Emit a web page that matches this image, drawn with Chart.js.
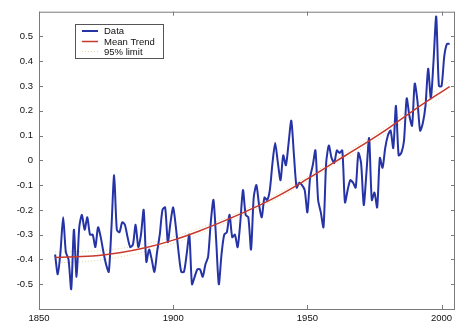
<!DOCTYPE html>
<html>
<head>
<meta charset="utf-8">
<script src="https://cdn.jsdelivr.net/npm/chart.js@4.4.0/dist/chart.umd.min.js"></script>
<style>
  html, body { margin: 0; padding: 0; background: #fff; }
</style>
</head>
<body>
<canvas id="grafikSuhu" width="468" height="334"></canvas>
<script>
// Anomali suhu tahunan (1856 - 2003)
const tahunAwal = 1856;
const anomali = [
  -0.38, -0.46, -0.37, -0.23, -0.37, -0.40, -0.52, -0.28, -0.47, -0.27, // 1856-1865
  -0.22, -0.28, -0.23, -0.30, -0.30, -0.35, -0.27, -0.31, -0.37, -0.42, // 1866-1875
  -0.45, -0.27, -0.06, -0.28, -0.29, -0.25, -0.26, -0.31, -0.35, -0.34, // 1876-1885
  -0.26, -0.35, -0.30, -0.20, -0.41, -0.36, -0.40, -0.45, -0.37, -0.30, // 1886-1895
  -0.20, -0.19, -0.33, -0.25, -0.19, -0.27, -0.37, -0.45, -0.45, -0.38, // 1896-1905
  -0.30, -0.50, -0.47, -0.44, -0.44, -0.47, -0.42, -0.39, -0.25, -0.16, // 1906-1915
  -0.32, -0.50, -0.38, -0.30, -0.29, -0.22, -0.31, -0.30, -0.35, -0.25, // 1916-1925
  -0.12, -0.22, -0.23, -0.36, -0.15, -0.10, -0.18, -0.23, -0.15, -0.16, // 1926-1935
  -0.12, -0.01, 0.07, -0.01, -0.08, 0.02, -0.02, 0.07, 0.16, 0.02,     // 1936-1945
  -0.11, -0.09, -0.10, -0.12, -0.21, -0.07, -0.02, 0.04, -0.16, -0.21, // 1946-1955
  -0.27, -0.01, 0.06, 0.01, -0.01, 0.04, 0.03, 0.04, -0.17, -0.12,     // 1956-1965
  -0.08, -0.09, -0.11, 0.03, -0.01, -0.18, -0.05, 0.09, -0.16, -0.13,  // 1966-1975
  -0.19, 0.01, -0.03, 0.05, 0.10, 0.12, 0.05, 0.22, 0.02, 0.03,        // 1976-1985
  0.08, 0.25, 0.18, 0.14, 0.31, 0.24, 0.12, 0.15, 0.22, 0.37,          // 1986-1995
  0.25, 0.40, 0.58, 0.30, 0.30, 0.42, 0.47, 0.47                       // 1996-2003
];

// Tren rata-rata dan batas 95%
const tahunTren = [1856, 1870, 1880, 1890, 1900, 1910, 1920, 1930, 1940, 1950, 1960, 1970, 1980, 1990, 2003];
const trenRata = [-0.392, -0.386, -0.373, -0.352, -0.322, -0.284, -0.240, -0.192, -0.138, -0.075, -0.008, 0.058, 0.128, 0.205, 0.298];
const batasAtas = [-0.370, -0.366, -0.356, -0.337, -0.309, -0.273, -0.230, -0.183, -0.129, -0.066, 0.002, 0.070, 0.142, 0.222, 0.322];
const batasBawah = [-0.414, -0.406, -0.390, -0.367, -0.335, -0.295, -0.250, -0.201, -0.147, -0.084, -0.018, 0.046, 0.114, 0.188, 0.274];

// Label sumbu
const tickX = [1850, 1900, 1950, 2000];
const tickY = [-0.5, -0.4, -0.3, -0.2, -0.1, 0, 0.1, 0.2, 0.3, 0.4, 0.5];

const labelLegenda = ['Data', 'Mean Trend', '95% limit'];

const FONT = { family: 'Arial, "Liberation Sans", sans-serif', size: 9.5 };

const titikData = anomali.map((v, i) => ({ x: tahunAwal + i, y: v }));
const titikTren = (arr) => arr.map((v, i) => ({ x: tahunTren[i], y: v }));

// Bingkai, tick ke dalam, dan legenda
const bingkai = {
  id: 'bingkai',
  beforeDatasetsDraw(chart) {
    const { ctx, chartArea: a, scales: { x, y } } = chart;
    ctx.save();
    ctx.strokeStyle = '#7a7a7a';
    ctx.lineWidth = 1;
    ctx.strokeRect(a.left + 0.5, a.top + 0.5, a.right - a.left - 1, a.bottom - a.top);
    ctx.beginPath();
    tickX.forEach(v => {
      const px = Math.round(x.getPixelForValue(v)) + 0.5;
      ctx.moveTo(px, a.bottom); ctx.lineTo(px, a.bottom - 4);
      ctx.moveTo(px, a.top); ctx.lineTo(px, a.top + 4);
    });
    tickY.forEach(v => {
      const py = Math.round(y.getPixelForValue(v)) + 0.5;
      ctx.moveTo(a.left, py); ctx.lineTo(a.left + 4, py);
      ctx.moveTo(a.right, py); ctx.lineTo(a.right - 4, py);
    });
    ctx.stroke();
    ctx.restore();
  },
  afterDraw(chart) {
    const { ctx } = chart;
    const ds = chart.data.datasets;
    ctx.save();
    ctx.fillStyle = '#fff';
    ctx.fillRect(75, 24, 88, 34);
    ctx.strokeStyle = '#555';
    ctx.lineWidth = 1;
    ctx.strokeRect(75.5, 24.5, 88, 34);
    ctx.font = FONT.size + 'px ' + FONT.family;
    ctx.textBaseline = 'middle';
    const barisY = [31, 41.5, 51.5];
    labelLegenda.forEach((lbl, i) => {
      const d = ds[i];
      ctx.strokeStyle = d.borderColor;
      ctx.lineWidth = d.borderWidth;
      ctx.setLineDash(d.borderDash || []);
      ctx.beginPath();
      ctx.moveTo(82, barisY[i]);
      ctx.lineTo(98, barisY[i]);
      ctx.stroke();
      ctx.setLineDash([]);
      ctx.fillStyle = '#111';
      ctx.fillText(lbl, 104, barisY[i] + 0.5);
    });
    ctx.restore();
  }
};

const ctxSuhu = document.getElementById('grafikSuhu');
let grafikSuhu = new Chart(ctxSuhu, {
  type: 'line',
  data: {
    datasets: [{
      label: 'Data',
      data: titikData,
      borderColor: '#2533a6',
      borderWidth: 2,
      pointRadius: 0,
      tension: 0.25,
      fill: false,
      order: 1
    }, {
      label: 'Mean Trend',
      data: titikTren(trenRata),
      borderColor: '#c8392b',
      borderWidth: 1.5,
      pointRadius: 0,
      tension: 0.4,
      fill: false,
      order: 0
    }, {
      label: '95% limit',
      data: titikTren(batasAtas),
      borderColor: '#e2d6a4',
      borderWidth: 1,
      borderDash: [1, 2],
      pointRadius: 0,
      tension: 0.4,
      fill: false,
      order: 2
    }, {
      label: '95% limit bawah',
      data: titikTren(batasBawah),
      borderColor: '#e2d6a4',
      borderWidth: 1,
      borderDash: [1, 2],
      pointRadius: 0,
      tension: 0.4,
      fill: false,
      order: 2
    }]
  },
  options: {
    responsive: false,
    animation: false,
    devicePixelRatio: 1,
    layout: { padding: { left: 0, right: 13, top: 10, bottom: 0 } },
    plugins: {
      legend: { display: false },
      tooltip: { enabled: false }
    },
    scales: {
      x: {
        type: 'linear',
        min: 1850,
        max: 2005,
        afterBuildTicks: s => { s.ticks = tickX.map(v => ({ value: v })); },
        afterFit: s => { s.height = 25; },
        grid: { display: false, drawTicks: false },
        border: { display: false },
        ticks: {
          font: FONT,
          color: '#111',
          padding: 4,
          maxRotation: 0,
          autoSkip: false,
          callback: v => String(v)
        }
      },
      y: {
        min: -0.6,
        max: 0.6,
        afterBuildTicks: s => { s.ticks = tickY.map(v => ({ value: v })); },
        afterFit: s => { s.width = 39; },
        grid: { display: false, drawTicks: false },
        border: { display: false },
        ticks: {
          font: FONT,
          color: '#111',
          padding: 6,
          callback: v => String(Number(v.toFixed(1)) + 0)
        }
      }
    }
  },
  plugins: [bingkai]
});
</script>
</body>
</html>
